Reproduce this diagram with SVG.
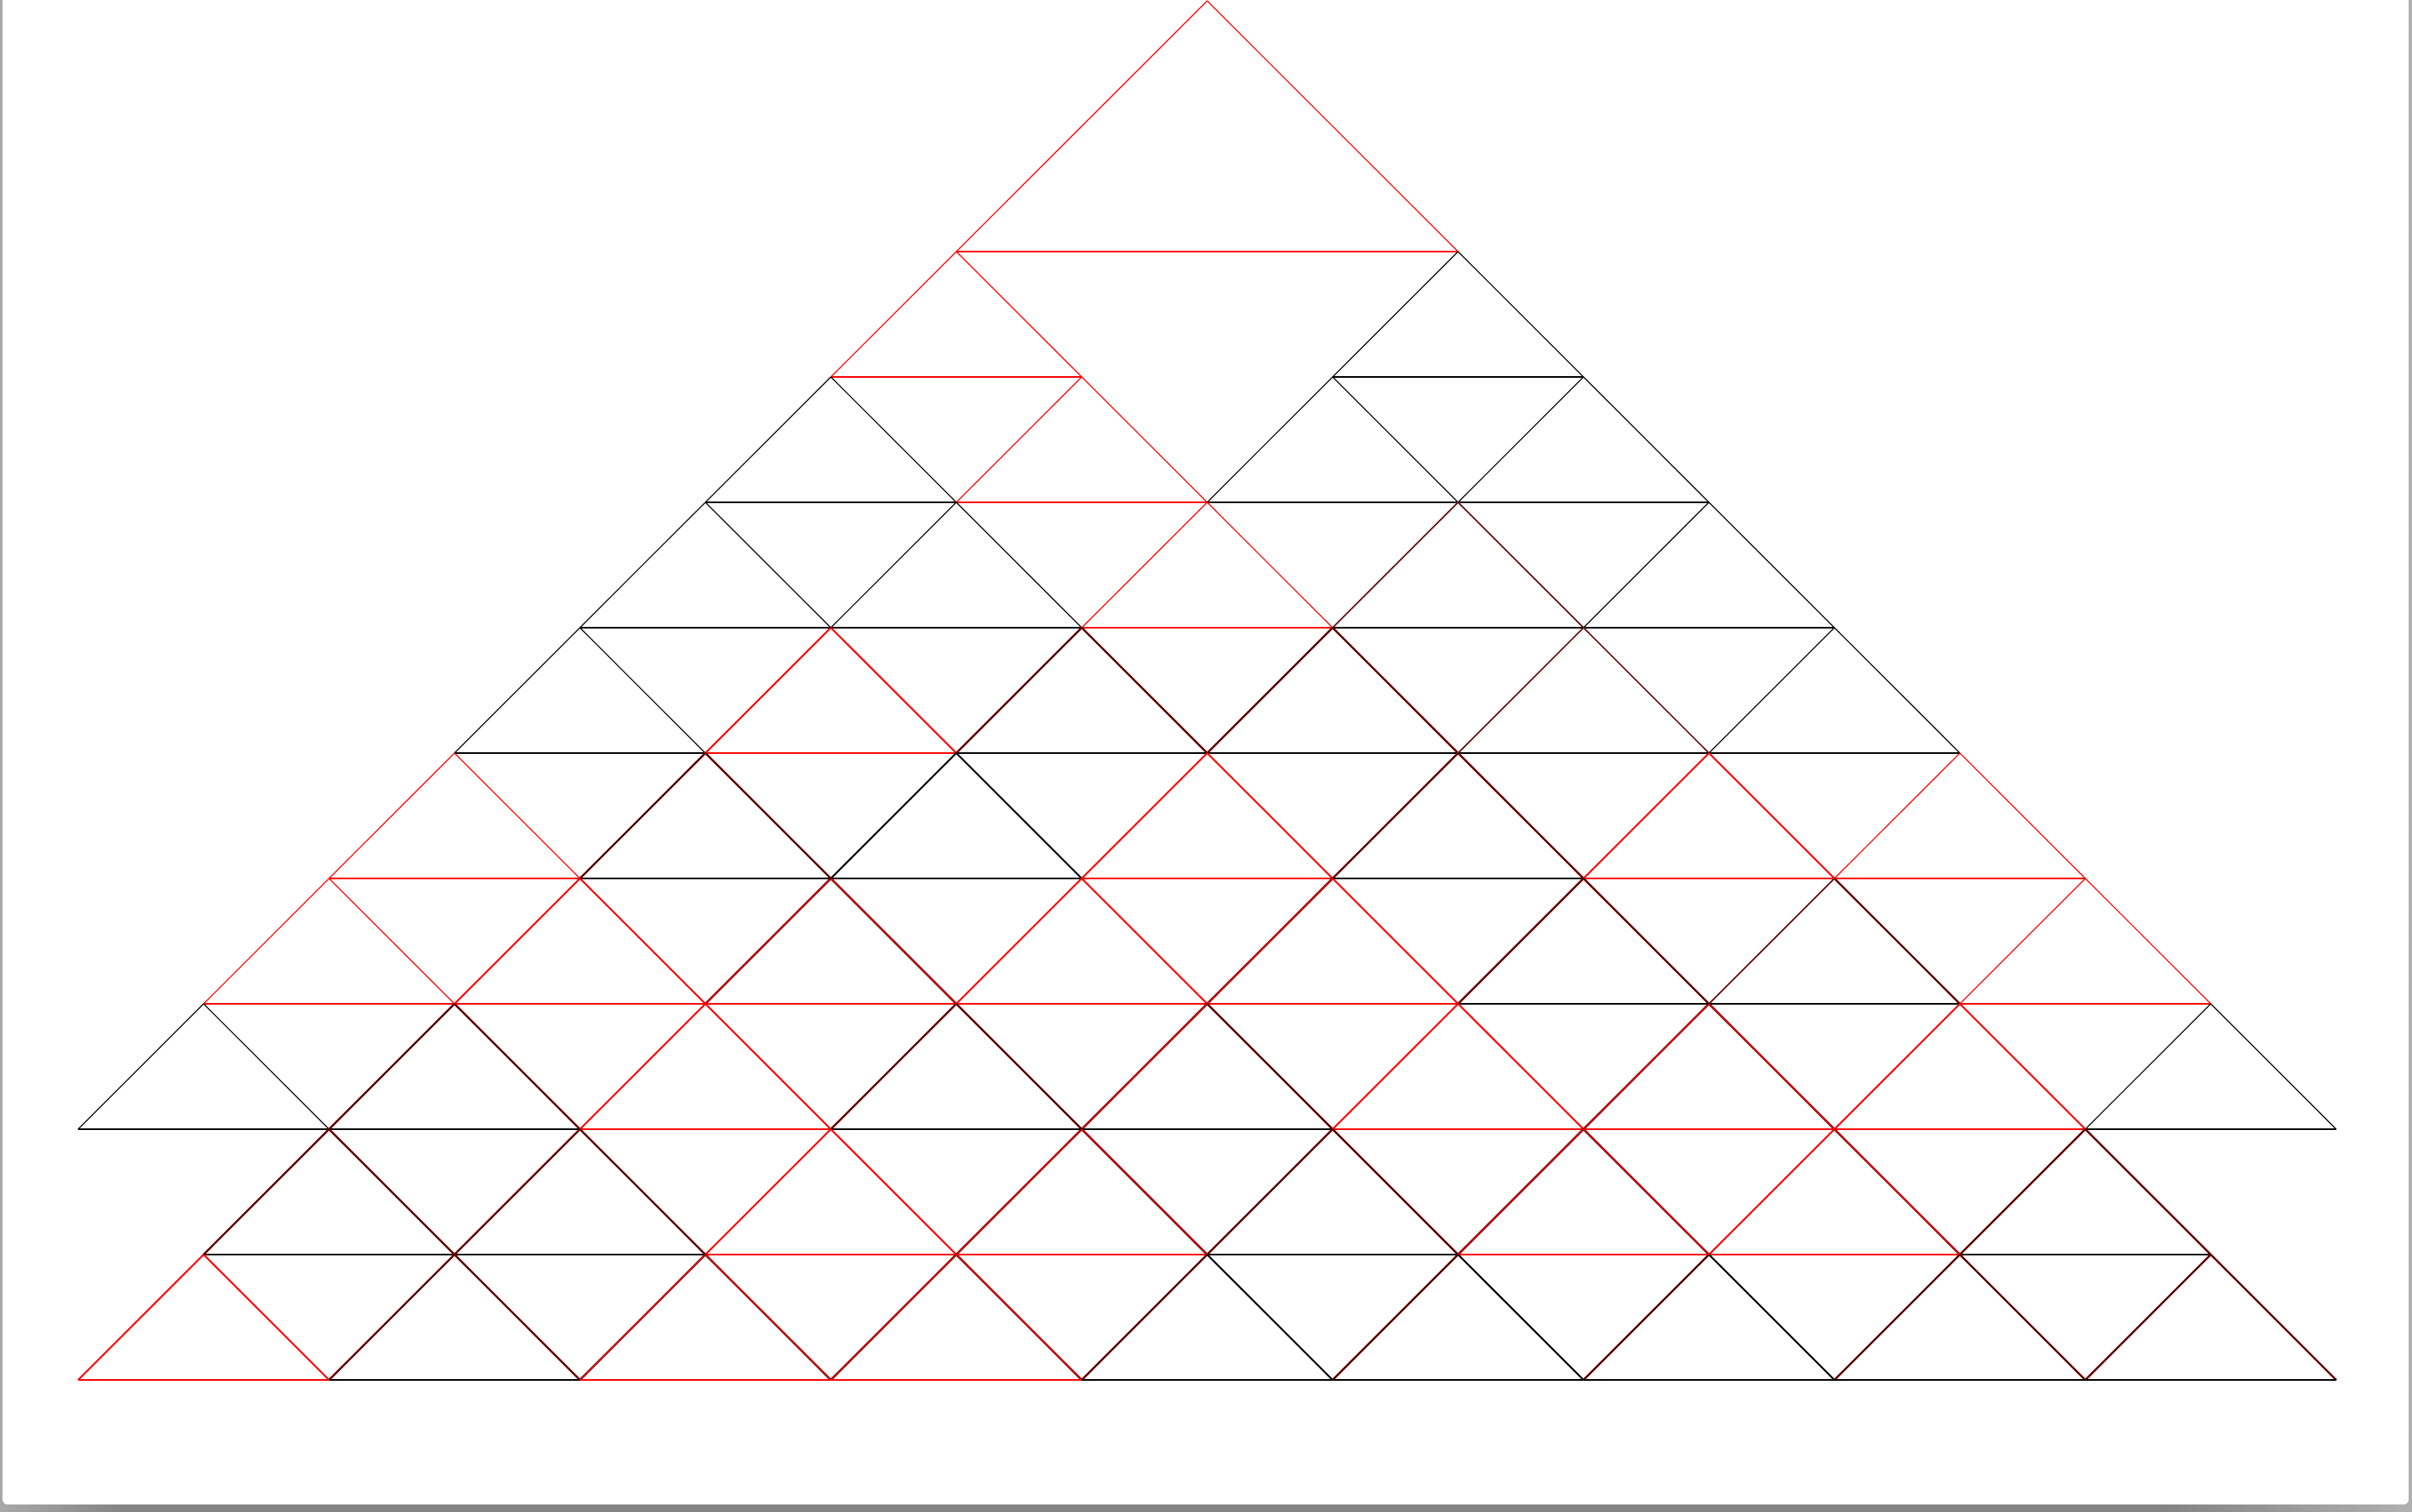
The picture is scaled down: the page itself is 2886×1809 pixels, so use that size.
<svg xmlns="http://www.w3.org/2000/svg" width="2886" height="1809" viewBox="0 0 2886 1809">
<defs>
<linearGradient id="shadow" x1="0" y1="0" x2="1" y2="0">
<stop offset="0" stop-color="#a8a8a8"/>
<stop offset="0.05" stop-color="#858585"/>
<stop offset="0.9" stop-color="#858585"/>
<stop offset="1" stop-color="#b0b0b0"/>
</linearGradient>
<style>
path{fill:none;stroke-linecap:butt;stroke-linejoin:miter}
.rt{stroke:#ff0000;stroke-width:1.3}
.bt{stroke:#000000;stroke-width:1.3}
.rk{stroke:#ff0000;stroke-width:2.2}
.bk{stroke:#000000;stroke-width:2.2}
.du{stroke:#d01010;stroke-width:2.5}
.dt{stroke:#2a0505;stroke-width:1.7}
.mu{stroke:#300000;stroke-width:2.5}
.mt{stroke:#ee0000;stroke-width:1.7}
.pu{stroke:#e04040;stroke-width:1.8}
.pt{stroke:#301010;stroke-width:1.1}
.hr{stroke:#ff0000;stroke-width:2}
.hb{stroke:#000000;stroke-width:2}
</style>
</defs>
<rect width="2886" height="1809" fill="url(#shadow)"/>
<rect x="3" y="-10" width="2879" height="1810" rx="6" fill="#ffffff"/>
<g id="triangles">
<g id="t0-9"><path class="rt" d="M1444.4 1L1144.2 301"/><path class="rt" d="M1444.4 1L1744.6 301"/><path class="hr" d="M1144.2 301H1744.6"/></g>
<g id="t2-7"><path class="rt" d="M1144.2 301L994.1 451"/><path class="rt" d="M1144.2 301L1294.3 451"/><path class="hr" d="M994.1 451H1294.3"/></g>
<g id="t2-11"><path class="bt" d="M1744.6 301L1594.5 451"/><path class="bt" d="M1744.6 301L1894.7 451"/><path class="hb" d="M1594.5 451H1894.7"/></g>
<g id="t3-6"><path class="bt" d="M994.1 451L844 601"/><path class="bt" d="M994.1 451L1144.2 601"/><path class="hb" d="M844 601H1144.2"/></g>
<g id="t3-8"><path class="rt" d="M1294.3 451L1144.2 601"/><path class="rt" d="M1294.3 451L1444.4 601"/><path class="hr" d="M1144.2 601H1444.4"/></g>
<g id="t3-10"><path class="bt" d="M1594.5 451L1444.4 601"/><path class="bt" d="M1594.5 451L1744.6 601"/><path class="hb" d="M1444.4 601H1744.6"/></g>
<g id="t3-12"><path class="bt" d="M1894.7 451L1744.6 601"/><path class="bt" d="M1894.7 451L2044.8 601"/><path class="hb" d="M1744.6 601H2044.8"/></g>
<g id="t4-5"><path class="bt" d="M844 601L693.9 751"/><path class="bt" d="M844 601L994.1 751"/><path class="hb" d="M693.9 751H994.1"/></g>
<g id="t4-7"><path class="bt" d="M1144.2 601L994.1 751"/><path class="bt" d="M1144.2 601L1294.3 751"/><path class="hb" d="M994.1 751H1294.3"/></g>
<g id="t4-9"><path class="rt" d="M1444.4 601L1294.3 751"/><path class="rt" d="M1444.4 601L1594.5 751"/><path class="hr" d="M1294.3 751H1594.5"/></g>
<g id="t4-11"><path class="pu" d="M1744.6 601L1594.5 751"/><path class="pt" d="M1744.6 601L1594.5 751"/><path class="pu" d="M1744.6 601L1894.7 751"/><path class="pt" d="M1744.6 601L1894.7 751"/><path class="hb" d="M1594.5 751H1894.7"/></g>
<g id="t4-13"><path class="bt" d="M2044.8 601L1894.7 751"/><path class="bt" d="M2044.8 601L2194.9 751"/><path class="hb" d="M1894.7 751H2194.9"/></g>
<g id="t5-4"><path class="bt" d="M693.9 751L543.8 901"/><path class="bt" d="M693.9 751L844 901"/><path class="hb" d="M543.8 901H844"/></g>
<g id="t5-6"><path class="rk" d="M994.1 751L844 901"/><path class="rk" d="M994.1 751L1144.2 901"/><path class="hr" d="M844 901H1144.2"/></g>
<g id="t5-8"><path class="du" d="M1294.3 751L1144.2 901"/><path class="dt" d="M1294.3 751L1144.2 901"/><path class="du" d="M1294.3 751L1444.4 901"/><path class="dt" d="M1294.3 751L1444.4 901"/><path class="hb" d="M1144.2 901H1444.4"/></g>
<g id="t5-10"><path class="du" d="M1594.5 751L1444.4 901"/><path class="dt" d="M1594.5 751L1444.4 901"/><path class="du" d="M1594.5 751L1744.6 901"/><path class="dt" d="M1594.5 751L1744.6 901"/><path class="hb" d="M1444.4 901H1744.6"/></g>
<g id="t5-12"><path class="pu" d="M1894.7 751L1744.6 901"/><path class="pt" d="M1894.7 751L1744.6 901"/><path class="pu" d="M1894.7 751L2044.8 901"/><path class="pt" d="M1894.7 751L2044.8 901"/><path class="hb" d="M1744.6 901H2044.8"/></g>
<g id="t5-14"><path class="bt" d="M2194.9 751L2044.8 901"/><path class="bt" d="M2194.9 751L2345 901"/><path class="hb" d="M2044.8 901H2345"/></g>
<g id="t6-3"><path class="rt" d="M543.8 901L393.7 1051"/><path class="rt" d="M543.8 901L693.9 1051"/><path class="hr" d="M393.7 1051H693.9"/></g>
<g id="t6-5"><path class="du" d="M844 901L693.9 1051"/><path class="dt" d="M844 901L693.9 1051"/><path class="du" d="M844 901L994.1 1051"/><path class="dt" d="M844 901L994.1 1051"/><path class="hb" d="M693.9 1051H994.1"/></g>
<g id="t6-7"><path class="bk" d="M1144.2 901L994.1 1051"/><path class="bk" d="M1144.2 901L1294.3 1051"/><path class="hb" d="M994.1 1051H1294.3"/></g>
<g id="t6-9"><path class="rk" d="M1444.4 901L1294.3 1051"/><path class="rk" d="M1444.4 901L1594.5 1051"/><path class="hr" d="M1294.3 1051H1594.5"/></g>
<g id="t6-11"><path class="du" d="M1744.6 901L1594.5 1051"/><path class="dt" d="M1744.6 901L1594.5 1051"/><path class="du" d="M1744.6 901L1894.7 1051"/><path class="dt" d="M1744.6 901L1894.7 1051"/><path class="hb" d="M1594.5 1051H1894.7"/></g>
<g id="t6-13"><path class="rk" d="M2044.8 901L1894.7 1051"/><path class="rk" d="M2044.8 901L2194.9 1051"/><path class="hr" d="M1894.7 1051H2194.9"/></g>
<g id="t6-15"><path class="rt" d="M2345 901L2194.9 1051"/><path class="rt" d="M2345 901L2495.1 1051"/><path class="hr" d="M2194.9 1051H2495.1"/></g>
<g id="t7-2"><path class="rt" d="M393.7 1051L243.6 1201"/><path class="rt" d="M393.7 1051L543.8 1201"/><path class="hr" d="M243.6 1201H543.8"/></g>
<g id="t7-4"><path class="rk" d="M693.9 1051L543.8 1201"/><path class="rk" d="M693.9 1051L844 1201"/><path class="hr" d="M543.8 1201H844"/></g>
<g id="t7-6"><path class="mu" d="M994.1 1051L844 1201"/><path class="mt" d="M994.1 1051L844 1201"/><path class="mu" d="M994.1 1051L1144.2 1201"/><path class="mt" d="M994.1 1051L1144.2 1201"/><path class="hr" d="M844 1201H1144.2"/></g>
<g id="t7-8"><path class="rk" d="M1294.3 1051L1144.2 1201"/><path class="rk" d="M1294.3 1051L1444.4 1201"/><path class="hr" d="M1144.2 1201H1444.4"/></g>
<g id="t7-10"><path class="mu" d="M1594.5 1051L1444.4 1201"/><path class="mt" d="M1594.5 1051L1444.4 1201"/><path class="rk" d="M1594.5 1051L1744.6 1201"/><path class="hr" d="M1444.4 1201H1744.6"/></g>
<g id="t7-12"><path class="du" d="M1894.7 1051L1744.6 1201"/><path class="dt" d="M1894.7 1051L1744.6 1201"/><path class="du" d="M1894.7 1051L2044.8 1201"/><path class="dt" d="M1894.7 1051L2044.8 1201"/><path class="hb" d="M1744.6 1201H2044.8"/></g>
<g id="t7-14"><path class="pu" d="M2194.9 1051L2044.8 1201"/><path class="pt" d="M2194.9 1051L2044.8 1201"/><path class="du" d="M2194.9 1051L2345 1201"/><path class="dt" d="M2194.9 1051L2345 1201"/><path class="hb" d="M2044.8 1201H2345"/></g>
<g id="t7-16"><path class="rt" d="M2495.1 1051L2345 1201"/><path class="rt" d="M2495.1 1051L2645.2 1201"/><path class="hr" d="M2345 1201H2645.2"/></g>
<g id="t8-1"><path class="bt" d="M243.6 1201L93.5 1351"/><path class="bt" d="M243.6 1201L393.7 1351"/><path class="hb" d="M93.5 1351H393.7"/></g>
<g id="t8-3"><path class="du" d="M543.8 1201L393.7 1351"/><path class="dt" d="M543.8 1201L393.7 1351"/><path class="du" d="M543.8 1201L693.9 1351"/><path class="dt" d="M543.8 1201L693.9 1351"/><path class="hb" d="M393.7 1351H693.9"/></g>
<g id="t8-5"><path class="rk" d="M844 1201L693.9 1351"/><path class="rk" d="M844 1201L994.1 1351"/><path class="hr" d="M693.9 1351H994.1"/></g>
<g id="t8-7"><path class="du" d="M1144.2 1201L994.1 1351"/><path class="dt" d="M1144.2 1201L994.1 1351"/><path class="du" d="M1144.2 1201L1294.3 1351"/><path class="dt" d="M1144.2 1201L1294.3 1351"/><path class="hb" d="M994.1 1351H1294.3"/></g>
<g id="t8-9"><path class="mu" d="M1444.4 1201L1294.3 1351"/><path class="mt" d="M1444.4 1201L1294.3 1351"/><path class="du" d="M1444.4 1201L1594.5 1351"/><path class="dt" d="M1444.4 1201L1594.5 1351"/><path class="hb" d="M1294.3 1351H1594.5"/></g>
<g id="t8-11"><path class="rk" d="M1744.6 1201L1594.5 1351"/><path class="rk" d="M1744.6 1201L1894.7 1351"/><path class="hr" d="M1594.5 1351H1894.7"/></g>
<g id="t8-13"><path class="mu" d="M2044.8 1201L1894.7 1351"/><path class="mt" d="M2044.8 1201L1894.7 1351"/><path class="mu" d="M2044.8 1201L2194.9 1351"/><path class="mt" d="M2044.8 1201L2194.9 1351"/><path class="hr" d="M1894.7 1351H2194.9"/></g>
<g id="t8-15"><path class="rk" d="M2345 1201L2194.9 1351"/><path class="rk" d="M2345 1201L2495.1 1351"/><path class="hr" d="M2194.9 1351H2495.1"/></g>
<g id="t8-17"><path class="bt" d="M2645.2 1201L2495.1 1351"/><path class="bt" d="M2645.2 1201L2795.3 1351"/><path class="hb" d="M2495.1 1351H2795.3"/></g>
<g id="t9-2"><path class="du" d="M393.7 1351L243.6 1501"/><path class="dt" d="M393.7 1351L243.6 1501"/><path class="du" d="M393.7 1351L543.8 1501"/><path class="dt" d="M393.7 1351L543.8 1501"/><path class="hb" d="M243.6 1501H543.8"/></g>
<g id="t9-4"><path class="du" d="M693.9 1351L543.8 1501"/><path class="dt" d="M693.9 1351L543.8 1501"/><path class="du" d="M693.9 1351L844 1501"/><path class="dt" d="M693.9 1351L844 1501"/><path class="hb" d="M543.8 1501H844"/></g>
<g id="t9-6"><path class="rk" d="M994.1 1351L844 1501"/><path class="rk" d="M994.1 1351L1144.2 1501"/><path class="hr" d="M844 1501H1144.2"/></g>
<g id="t9-8"><path class="mu" d="M1294.3 1351L1144.2 1501"/><path class="mt" d="M1294.3 1351L1144.2 1501"/><path class="mu" d="M1294.3 1351L1444.4 1501"/><path class="mt" d="M1294.3 1351L1444.4 1501"/><path class="hr" d="M1144.2 1501H1444.4"/></g>
<g id="t9-10"><path class="du" d="M1594.5 1351L1444.4 1501"/><path class="dt" d="M1594.5 1351L1444.4 1501"/><path class="du" d="M1594.5 1351L1744.6 1501"/><path class="dt" d="M1594.5 1351L1744.6 1501"/><path class="hb" d="M1444.4 1501H1744.6"/></g>
<g id="t9-12"><path class="mu" d="M1894.7 1351L1744.6 1501"/><path class="mt" d="M1894.7 1351L1744.6 1501"/><path class="mu" d="M1894.7 1351L2044.8 1501"/><path class="mt" d="M1894.7 1351L2044.8 1501"/><path class="hr" d="M1744.6 1501H2044.8"/></g>
<g id="t9-14"><path class="rk" d="M2194.9 1351L2044.8 1501"/><path class="mu" d="M2194.9 1351L2345 1501"/><path class="mt" d="M2194.9 1351L2345 1501"/><path class="hr" d="M2044.8 1501H2345"/></g>
<g id="t9-16"><path class="du" d="M2495.1 1351L2345 1501"/><path class="dt" d="M2495.1 1351L2345 1501"/><path class="du" d="M2495.1 1351L2645.2 1501"/><path class="dt" d="M2495.1 1351L2645.2 1501"/><path class="hb" d="M2345 1501H2645.2"/></g>
<g id="t10-1"><path class="rk" d="M243.6 1501L93.5 1651"/><path class="rk" d="M243.6 1501L393.7 1651"/><path class="hr" d="M93.5 1651H393.7"/></g>
<g id="t10-3"><path class="du" d="M543.8 1501L393.7 1651"/><path class="dt" d="M543.8 1501L393.7 1651"/><path class="du" d="M543.8 1501L693.9 1651"/><path class="dt" d="M543.8 1501L693.9 1651"/><path class="hb" d="M393.7 1651H693.9"/></g>
<g id="t10-5"><path class="mu" d="M844 1501L693.9 1651"/><path class="mt" d="M844 1501L693.9 1651"/><path class="mu" d="M844 1501L994.1 1651"/><path class="mt" d="M844 1501L994.1 1651"/><path class="hr" d="M693.9 1651H994.1"/></g>
<g id="t10-7"><path class="mu" d="M1144.2 1501L994.1 1651"/><path class="mt" d="M1144.2 1501L994.1 1651"/><path class="mu" d="M1144.2 1501L1294.3 1651"/><path class="mt" d="M1144.2 1501L1294.3 1651"/><path class="hr" d="M994.1 1651H1294.3"/></g>
<g id="t10-9"><path class="du" d="M1444.4 1501L1294.3 1651"/><path class="dt" d="M1444.4 1501L1294.3 1651"/><path class="bk" d="M1444.4 1501L1594.5 1651"/><path class="hb" d="M1294.3 1651H1594.5"/></g>
<g id="t10-11"><path class="du" d="M1744.6 1501L1594.5 1651"/><path class="dt" d="M1744.6 1501L1594.5 1651"/><path class="bk" d="M1744.6 1501L1894.7 1651"/><path class="hb" d="M1594.5 1651H1894.7"/></g>
<g id="t10-13"><path class="du" d="M2044.8 1501L1894.7 1651"/><path class="dt" d="M2044.8 1501L1894.7 1651"/><path class="bk" d="M2044.8 1501L2194.9 1651"/><path class="hb" d="M1894.7 1651H2194.9"/></g>
<g id="t10-15"><path class="du" d="M2345 1501L2194.9 1651"/><path class="dt" d="M2345 1501L2194.9 1651"/><path class="du" d="M2345 1501L2495.1 1651"/><path class="dt" d="M2345 1501L2495.1 1651"/><path class="hb" d="M2194.9 1651H2495.1"/></g>
<g id="t10-17"><path class="du" d="M2645.2 1501L2495.1 1651"/><path class="dt" d="M2645.2 1501L2495.1 1651"/><path class="du" d="M2645.2 1501L2795.3 1651"/><path class="dt" d="M2645.2 1501L2795.3 1651"/><path class="hb" d="M2495.1 1651H2795.3"/></g>
</g>
</svg>
